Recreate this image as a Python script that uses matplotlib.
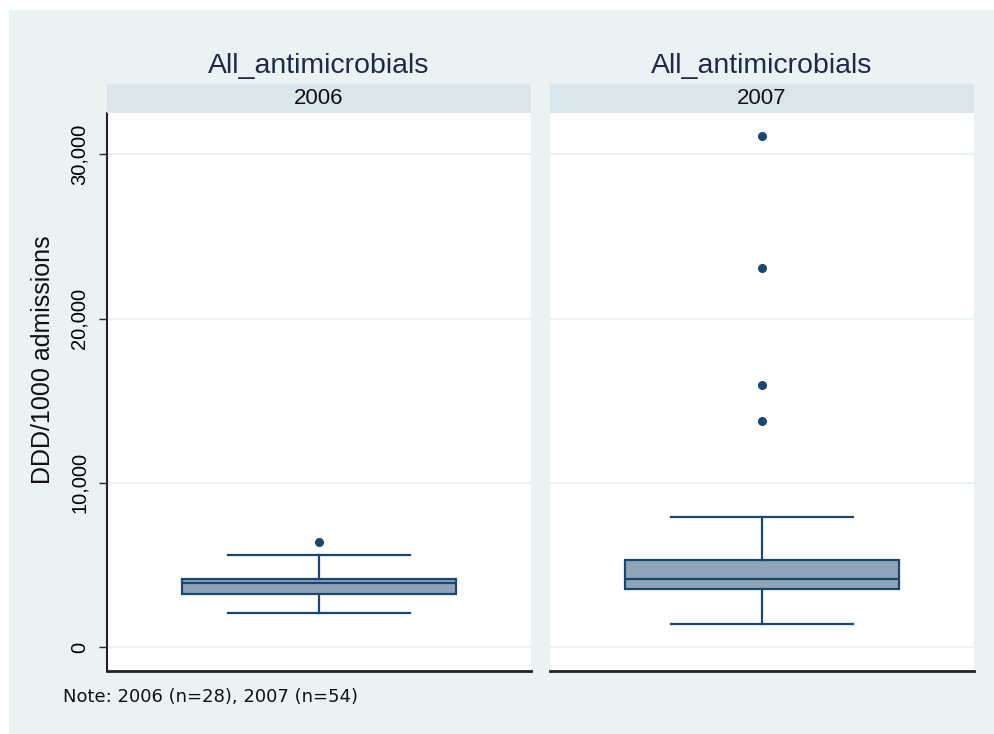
import matplotlib
matplotlib.use('Agg')
import matplotlib.pyplot as plt
from matplotlib.patches import Rectangle
from matplotlib.ticker import FuncFormatter

# data (DDD/1000 admissions)
years = ['2006', '2007']
lower_whisker = [2070, 1400]
q1 = [3220, 3530]
median = [3890, 4130]
q3 = [4130, 5290]
upper_whisker = [5590, 7900]
outliers = [[6380], [13740, 15930, 23100, 31120]]
y_ticks = [0, 10000, 20000, 30000]

plt.rcParams['font.family'] = ['Liberation Sans', 'DejaVu Sans']

bg = '#eaf2f3'
strip_col = '#d9e6eb'
navy = '#1a476f'
box_fill = '#8ea5b9'

fig = plt.figure(figsize=(9.95, 7.34), dpi=100)
fig.patch.set_facecolor('white')
fig.patches.append(Rectangle((9 / 995, 0), 1 - 9 / 995, 1 - 10 / 734,
                             transform=fig.transFigure, facecolor=bg,
                             edgecolor='none', zorder=-10))

ax_w = 424 / 995
ax_b = 1 - 671 / 734
ax_h = (671 - 113) / 734
lefts = [107 / 995, 550 / 995]

for i, yr in enumerate(years):
    ax = fig.add_axes([lefts[i], ax_b, ax_w, ax_h])
    ax.set_facecolor('white')
    stats = [{
        'whislo': lower_whisker[i], 'q1': q1[i], 'med': median[i],
        'q3': q3[i], 'whishi': upper_whisker[i], 'fliers': outliers[i],
    }]
    ax.bxp(stats, positions=[0], widths=0.645, patch_artist=True,
           boxprops=dict(facecolor=box_fill, edgecolor=navy, linewidth=1.6),
           medianprops=dict(color=navy, linewidth=1.6),
           whiskerprops=dict(color=navy, linewidth=1.6),
           capprops=dict(color=navy, linewidth=1.6),
           capwidths=0.43,
           flierprops=dict(marker='o', markerfacecolor=navy, markeredgecolor=navy,
                           markersize=5.5))
    ax.set_xlim(-0.5, 0.5)
    ax.set_ylim(-1460, 32520)
    ax.set_xticks([])
    ax.set_yticks(y_ticks)
    ax.grid(axis='y', color=bg, linewidth=1.5)
    ax.set_axisbelow(True)
    for s in ['top', 'right']:
        ax.spines[s].set_visible(False)
    ax.spines['bottom'].set_linewidth(2)
    ax.spines['bottom'].set_color('#222222')
    if i == 0:
        ax.spines['left'].set_linewidth(1.5)
        ax.spines['left'].set_color('#222222')
        ax.yaxis.set_major_formatter(FuncFormatter(lambda v, p: f'{int(v):,}'))
        ax.tick_params(axis='y', length=6, width=1, pad=7, labelsize=14.5,
                       labelrotation=90, color='#222222')
        for lab in ax.get_yticklabels():
            lab.set_verticalalignment('center')
    else:
        ax.spines['left'].set_visible(False)
        ax.tick_params(axis='y', left=False, labelleft=False)

    # strip with the year
    x0 = lefts[i]
    fig.patches.append(Rectangle((x0, 1 - 113 / 734), ax_w, 29 / 734,
                                 transform=fig.transFigure, facecolor=strip_col,
                                 edgecolor='none'))
    fig.text(x0 + ax_w / 2, 1 - 104 / 734, yr, ha='center', va='baseline',
             fontsize=16, color='#111111')
    fig.text(x0 + ax_w / 2, 1 - 73 / 734, 'All_antimicrobials', ha='center',
             va='baseline', fontsize=20.5, color='#1e2a4a')

fig.text(43 / 995, 1 - 360 / 734, 'DDD/1000 admissions', rotation=90,
         ha='center', va='center', fontsize=18, color='#111111')
fig.text(63 / 995, 1 - 697 / 734, 'Note: 2006 (n=28), 2007 (n=54)',
         ha='left', va='center', fontsize=13, color='#111111',
         family='DejaVu Sans')

fig.savefig('out.png', dpi=100)
